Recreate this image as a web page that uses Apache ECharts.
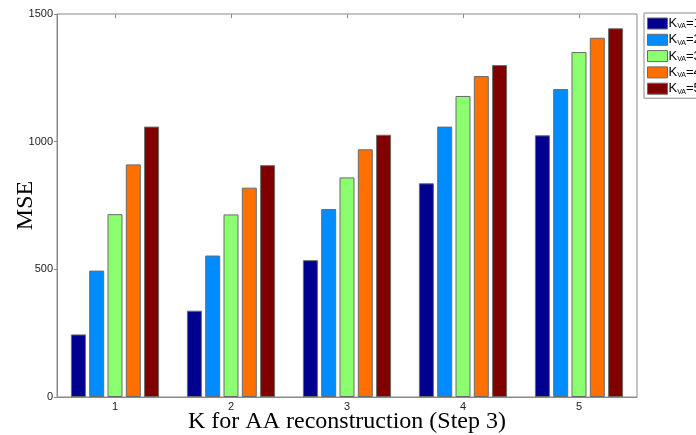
<!DOCTYPE html>
<html>
<head>
<meta charset="utf-8">
<script src="https://cdn.jsdelivr.net/npm/echarts@6/dist/echarts.min.js"></script>
<style>
  html, body { margin: 0; padding: 0; background: #fff; }
  #chart { width: 696px; height: 435px; }
</style>
</head>
<body>
<div id="chart"></div>
<script>
// Categories: K used in the AA reconstruction step
const categories = ['1', '2', '3', '4', '5'];

// MSE for each K_VA setting
const kva1 = [245, 338, 536, 837, 1025];
const kva2 = [495, 554, 736, 1059, 1206];
const kva3 = [716, 715, 860, 1179, 1351];
const kva4 = [911, 820, 970, 1257, 1407];
const kva5 = [1059, 908, 1027, 1300, 1444];

const seriesNames = ['K_VA=1', 'K_VA=2', 'K_VA=3', 'K_VA=4', 'K_VA=5'];
const seriesData = [kva1, kva2, kva3, kva4, kva5];
const colors = ['#000090', '#008CFF', '#8CFF70', '#FF7000', '#800000'];

const chart = echarts.init(document.getElementById('chart'), null, { renderer: 'canvas' });

const series = seriesData.map((d, i) => ({
  name: seriesNames[i],
  type: 'bar',
  data: d,
  barWidth: 15,
  barGap: '22%',
  itemStyle: { color: colors[i], borderColor: '#6a6a6a', borderWidth: 1 },
  xAxisIndex: 0,
  yAxisIndex: 0
}));

chart.setOption({
  animation: false,
  backgroundColor: '#fff',
  grid: {
    left: 57, top: 14, right: 59, bottom: 38,
    containLabel: false,
    outerBoundsMode: 'none',
    show: true, borderColor: '#8a8a8a', borderWidth: 1, backgroundColor: '#fff'
  },
  legend: {
    orient: 'vertical',
    left: 644, top: 13,
    itemWidth: 20, itemHeight: 11, itemGap: 3.3,
    padding: [4, 30, 3, 3],
    borderColor: '#8a8a8a', borderWidth: 1,
    icon: 'rect',
    itemStyle: { borderColor: '#6a6a6a', borderWidth: 1 },
    formatter: function (name) {
      const n = name.split('=')[1];
      return '{k|K}{s|VA}{k|=' + n + '}';
    },
    textStyle: {
      padding: [0, 0, 0, -4],
      rich: {
        k: { fontFamily: 'Liberation Sans', fontSize: 13, color: '#000' },
        s: { fontFamily: 'Liberation Sans', fontSize: 7, color: '#000', verticalAlign: 'bottom', padding: [6, 0, 0, 0] }
      }
    },
    data: seriesNames
  },
  xAxis: [{
    type: 'category',
    data: categories,
    position: 'bottom',
    axisLine: { lineStyle: { color: '#8a8a8a' } },
    axisTick: { show: false },
    axisLabel: { color: '#222', fontFamily: 'Liberation Sans', fontSize: 11, margin: 4 },
    name: 'K for AA reconstruction (Step 3)',
    nameLocation: 'middle',
    nameMoveOverlap: false,
    nameGap: 13,
    nameTextStyle: { fontFamily: 'Liberation Serif', fontSize: 24, color: '#000', verticalAlign: 'top' }
  }, {
    type: 'category',
    data: categories,
    position: 'top',
    axisLine: { show: false },
    axisTick: { show: true, inside: true, alignWithLabel: true, length: 4, lineStyle: { color: '#8a8a8a' } },
    axisLabel: { show: false }
  }],
  yAxis: [{
    type: 'value',
    min: 0, max: 1500, interval: 500,
    splitLine: { show: false },
    axisLine: { show: true, lineStyle: { color: '#8a8a8a' } },
    axisTick: { show: true, length: 3, lineStyle: { color: '#8a8a8a' } },
    axisLabel: {
      color: '#222', fontFamily: 'Liberation Sans', fontSize: 11, margin: 4,
      formatter: function (v) { return String(v); }
    },
    name: 'MSE',
    nameLocation: 'middle',
    nameMoveOverlap: false,
    nameGap: 19,
    nameTextStyle: { fontFamily: 'Liberation Serif', fontSize: 24, color: '#000' }
  }],
  series: series
});
</script>
</body>
</html>
